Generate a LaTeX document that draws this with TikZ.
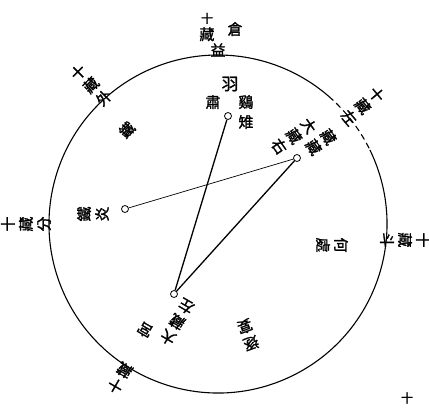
\documentclass[tikz,border=0pt]{standalone}
\usepackage{fontspec}
\newfontfamily\cjk[FakeBold=1.5]{Noto Sans CJK TC}
\begin{document}
\begin{tikzpicture}[x=1pt,y=-1pt,
  ch/.style={font=\cjk\fontsize{15}{18}\selectfont, inner sep=0pt, align=center},
  chs/.style={font=\cjk\fontsize{12}{12}\selectfont, inner sep=0pt},
  pt/.style={circle, draw, fill=white, line width=0.8pt, minimum size=7pt, inner sep=0pt},
  thick line/.style={line width=1.3pt},
  thin line/.style={line width=0.7pt}]
\useasboundingbox (0,0) rectangle (429,410);
% circle
\coordinate (c) at (218,224);
\draw[line width=1.1pt] ([shift={(-26:169)}]c) arc[start angle=-26, end angle=311, radius=169];
\draw[line width=1.1pt, dash pattern=on 6pt off 4pt] ([shift={(-49:169)}]c) arc[start angle=-49, end angle=-26, radius=169];
% points
\node[pt] (top) at (228,116) {};
\node[pt] (right) at (297,158) {};
\node[pt] (left) at (125,209) {};
\node[pt] (bottom) at (174,294) {};
\draw[thin line] (left) -- (right);
\draw[thick line] (top) -- (bottom);
\draw[thick line] (right) -- (bottom);
% outer labels
\node[ch, font=\cjk\fontsize{15}{17}\selectfont] (o1) at (207,27) {\fontsize{12}{12}\selectfont 十\\藏};
\node[ch] (o3) at (235,29) {倉};
\node[ch] (o4) at (218,50) {益};
\node[ch, rotate=45] (o5) at (91,85) {十\\藏\\外};
\node[ch, rotate=-50] (o8) at (363,106) {十\\藏\\左};
\node[ch, rotate=90] (o11) at (26,224) {十\\藏\\分};
\node[ch, rotate=-90] (o14) at (405,240) {十\\藏\\斗};
\node[ch, rotate=150] (o17) at (120,378) {十\\藏};
\node[chs] (o19) at (407,398) {十};
% inner labels
\node[ch, font=\cjk\fontsize{17}{17}\selectfont] (i1) at (230,84) {羽};
\node[ch] (i2) at (213,102) {肅};
\node[ch, font=\cjk\fontsize{15}{20}\selectfont] (i3) at (246,112) {鷄\\雉};
\node[ch, rotate=45] (i5) at (127,130) {鐵};
\node[ch, rotate=-55] (i6) at (294,136) {大\\藏\\右};
\node[ch, rotate=-55] (i9) at (321,142) {藏\\藏};
\node[ch, rotate=90] (i11) at (93,214) {鐵\\炎};
\node[ch, rotate=-90] (i13) at (332,245) {何\\處};
\node[ch, rotate=150] (i15) at (177,322) {大\\藏\\左};
\node[ch, rotate=150] (i18) at (145,330) {宮};
\node[ch, rotate=-160] (i19) at (248,335) {逐\\宴};
\end{tikzpicture}
\end{document}
